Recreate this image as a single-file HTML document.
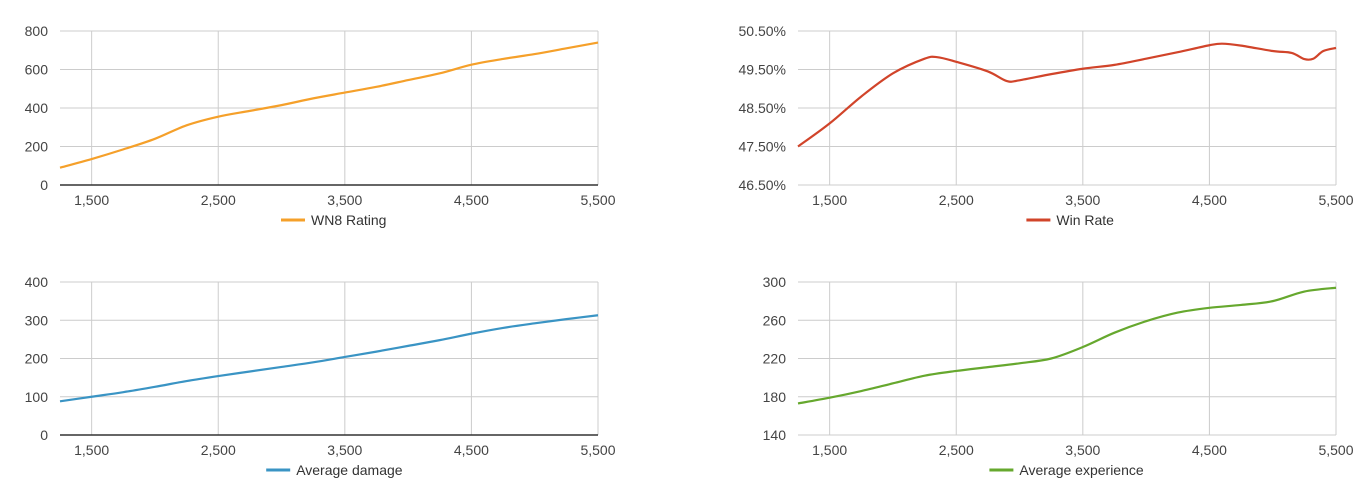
<!DOCTYPE html>
<html><head><meta charset="utf-8"><style>
html,body{margin:0;padding:0;background:#fff;}
svg{display:block;font-family:"Liberation Sans",Arial,sans-serif;}
</style></head><body>
<svg id="c" width="1372" height="489" xmlns="http://www.w3.org/2000/svg"></svg>
<script>
const xValues=[1250,1500,1750,2000,2250,2500,2750,3000,3250,3500,3750,4000,4250,4500,4750,5000,5250,5500];
const xTicks=[1500,2500,3500,4500,5500];
const wn8Values=[90,135,185,240,310,355,385,415,450,480,510,545,580,625,655,680,710,740];
const wn8Ticks=[0,200,400,600,800];
const winX=[1250,1500,1750,2000,2250,2350,2500,2750,2900,3000,3250,3500,3750,4000,4250,4500,4600,4750,5000,5150,5250,5320,5400,5500];
const winValues=[47.5,48.1,48.8,49.4,49.78,49.82,49.7,49.45,49.2,49.22,49.38,49.52,49.62,49.78,49.95,50.13,50.17,50.12,49.98,49.93,49.77,49.78,49.98,50.06];
const winTicks=[46.5,47.5,48.5,49.5,50.5];
const dmgValues=[88,100,112,126,141,154,166,178,190,204,218,233,248,265,280,292,303,313];
const dmgTicks=[0,100,200,300,400];
const expValues=[173,179,186,194,202,207,211,215,220,232,247,259,268,273,276,280,290,294];
const expTicks=[140,180,220,260,300];

const svg=document.getElementById('c');
const NS='http://www.w3.org/2000/svg';
function mk(tag,attrs,parent){const e=document.createElementNS(NS,tag);for(const k in attrs)e.setAttribute(k,attrs[k]);(parent||svg).appendChild(e);return e;}
function smooth(pts){let d='M'+pts[0][0]+','+pts[0][1];for(let i=0;i<pts.length-1;i++){const p0=pts[i-1]||pts[i],p1=pts[i],p2=pts[i+1],p3=pts[i+2]||p2;const c1x=p1[0]+(p2[0]-p0[0])/6,c1y=p1[1]+(p2[1]-p0[1])/6,c2x=p2[0]-(p3[0]-p1[0])/6,c2y=p2[1]-(p3[1]-p1[1])/6;d+=' C'+c1x+','+c1y+' '+c2x+','+c2y+' '+p2[0]+','+p2[1];}return d;}

function chart(o){
  const g=mk('g',{});
  
  
  const xs=v=>o.x0+(v-1250)/(5500-1250)*(o.x1-o.x0);
  const ymin=o.yTicks[0],ymax=o.yTicks[o.yTicks.length-1];
  const ys=v=>o.y1-(v-ymin)/(ymax-ymin)*(o.y1-o.y0);
  o.yTicks.forEach(t=>{
    const l=mk('line',{x1:o.x0,x2:o.x1,y1:ys(t),y2:ys(t),stroke:'#ccc','stroke-width':1},g);
    
    
    const tx=mk('text',{x:o.x0-12,y:ys(t)+5,'text-anchor':'end','font-size':14,fill:'#444'},g);
    tx.textContent=o.fmt(t);
    
    
  });
  xTicks.forEach(t=>{
    const l=mk('line',{x1:xs(t),x2:xs(t),y1:o.y0,y2:o.y1,stroke:'#ccc','stroke-width':1},g);
    
    
    const tx=mk('text',{x:xs(t),y:o.y1+20,'text-anchor':'middle','font-size':14,fill:'#444'},g);
    tx.textContent=t.toLocaleString('en-US');
    
    
  });
  if(o.baseline){
    const b=mk('line',{x1:o.x0,x2:o.x1,y1:o.y1,y2:o.y1,stroke:'#333','stroke-width':1.5},g);
    
    
  }
  const pts=o.xv.map((x,i)=>[xs(x),ys(o.vals[i])]);
  const p=mk('path',{d:smooth(pts),fill:'none',stroke:o.color,'stroke-width':2.2},g);
  
  
  const cx=(o.x0+o.x1)/2;
  const lg=mk('g',{},g);
  
  
  const w=o.label.length*7.4;
  const sx=cx-(30+w)/2+4;
  mk('line',{x1:sx,x2:sx+24,y1:o.y1+35,y2:o.y1+35,stroke:o.color,'stroke-width':3},lg);
  const lt=mk('text',{x:sx+30,y:o.y1+40,'font-size':14,fill:'#333'},lg);
  lt.textContent=o.label;
  
  
}
chart({name:'wn8-chart',x0:60,x1:598,y0:31,y1:185,yTicks:wn8Ticks,fmt:t=>String(t),xv:xValues,vals:wn8Values,color:'#f5a02a',label:'WN8 Rating',baseline:true});
chart({name:'win-rate-chart',x0:798,x1:1336,y0:31,y1:185,yTicks:winTicks,fmt:t=>t.toFixed(2)+'%',xv:winX,vals:winValues,color:'#d1442a',label:'Win Rate',baseline:false});
chart({name:'damage-chart',x0:60,x1:598,y0:282,y1:435,yTicks:dmgTicks,fmt:t=>String(t),xv:xValues,vals:dmgValues,color:'#3a94c4',label:'Average damage',baseline:true});
chart({name:'experience-chart',x0:798,x1:1336,y0:282,y1:435,yTicks:expTicks,fmt:t=>String(t),xv:xValues,vals:expValues,color:'#66a82e',label:'Average experience',baseline:false});
</script>
</body></html>
